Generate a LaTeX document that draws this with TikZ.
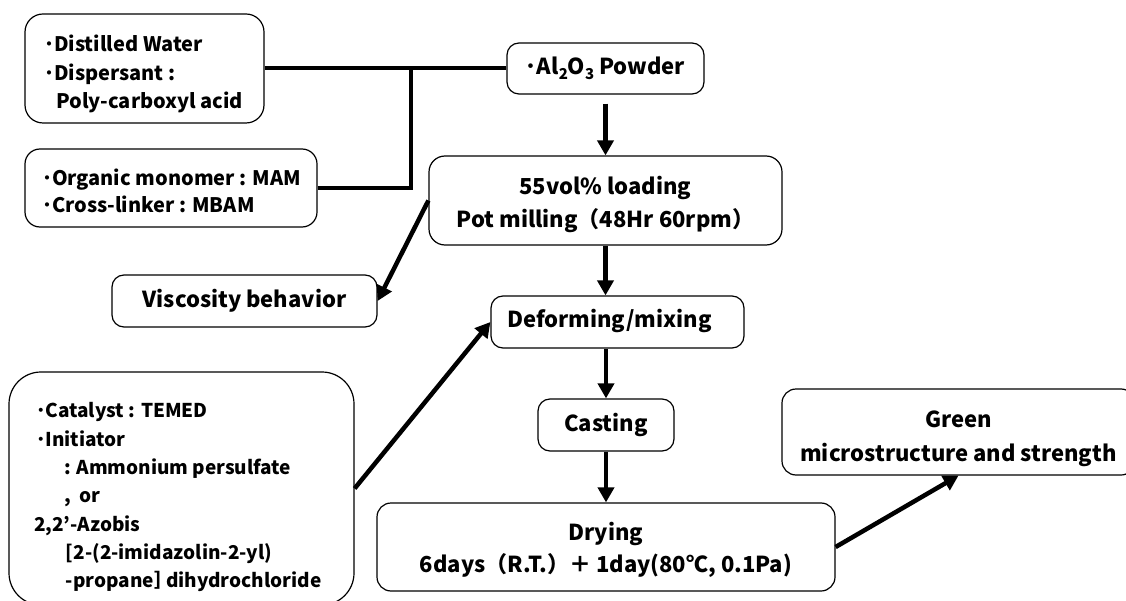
\documentclass[tikz,border=0pt]{standalone}
\usepackage{fontspec}
\setmainfont{Noto Sans CJK JP}
\usetikzlibrary{arrows.meta}
\newcommand\lowsub[1]{\raisebox{-0.4ex}{\fontsize{15}{15}\selectfont #1}}
\newcommand\lbox[2]{\makebox[#1][l]{\begin{tabular}{@{}l@{}}#2\end{tabular}}}
\newcommand\drop[2]{\raisebox{#1}[0pt][0pt]{#2}}
\begin{document}
\begin{tikzpicture}[x=1pt,y=-1pt,
  box/.style={draw, line width=1.2pt, rounded corners=12pt, inner sep=0pt, font=\bfseries},
  conn/.style={line width=4pt},
  arr/.style={line width=4.5pt, -{Triangle[length=15pt,width=16pt]}}]
\useasboundingbox (0,0) rectangle (1126,601);
\node[box, rounded corners=18pt, minimum width=239pt, minimum height=109pt,
  font=\bfseries\fontsize{20}{28.5}\selectfont] (dw) at (144.5,68.5)
  {\drop{-11pt}{\lbox{201pt}{･Distilled Water\\･Dispersant :\\\hspace*{12pt}Poly-carboxyl acid}}};
\node[box, rounded corners=15pt, minimum width=292pt, minimum height=78pt,
  font=\bfseries\fontsize{20}{27}\selectfont] (om) at (171,188)
  {\drop{-11pt}{\lbox{258pt}{･Organic monomer : MAM\\･Cross-linker : MBAM}}};
\node[box, minimum width=197pt, minimum height=51pt, font=\bfseries\fontsize{22}{28}\selectfont] (al) at (605.5,68.5)
  {･Al\lowsub{2}O\lowsub{3} Powder};
\node[box, rounded corners=16pt, minimum width=353pt, minimum height=89pt,
  font=\bfseries\fontsize{22}{33}\selectfont] (pot) at (605.5,200.5)
  {\drop{-9pt}{\begin{tabular}{@{}c@{}}55vol\% loading\\Pot milling（48Hr 60rpm）\end{tabular}}};
\node[box, minimum width=265pt, minimum height=52pt, font=\bfseries\fontsize{22}{28}\selectfont] (visc) at (244.5,301)
  {Viscosity behavior};
\node[box, minimum width=253pt, minimum height=52pt,
  font=\bfseries\fontsize{22}{28}\selectfont] (def) at (617.5,322)
  {\lbox{221pt}{Deforming/mixing}};
\node[box, minimum width=136pt, minimum height=52pt, font=\bfseries\fontsize{22}{28}\selectfont] (cast) at (606,425)
  {Casting};
\node[box, rounded corners=14pt, minimum width=458pt, minimum height=88pt,
  font=\bfseries\fontsize{22}{32}\selectfont] (dry) at (606,547)
  {\drop{-8pt}{\begin{tabular}{@{}c@{}}Drying\\6days（R.T.）＋ 1day(80℃, 0.1Pa)\end{tabular}}};
\node[box, rounded corners=14pt, minimum width=353pt, minimum height=86pt,
  font=\bfseries\fontsize{22}{34}\selectfont] (green) at (958.5,432)
  {\drop{-11pt}{\begin{tabular}{@{}c@{}}Green\\microstructure and strength\end{tabular}}};
\node[box, rounded corners=32pt, minimum width=345pt, minimum height=233pt,
  font=\bfseries\fontsize{19}{28.3}\selectfont] (cat) at (181.5,488.5)
  {\drop{-13pt}{\lbox{295pt}{\hspace*{2pt}･Catalyst : TEMED\\\hspace*{2pt}･Initiator\\\hspace*{30pt}: Ammonium persulfate\\\hspace*{30pt},\ \ or\\2,2'-Azobis\\\hspace*{32pt}[2-(2-imidazolin-2-yl)\\\hspace*{32pt}-propane］\hspace{-7pt}dihydrochloride}}};
% connectors
\coordinate (j) at (411,68.5);
\draw[conn] (dw.east) -- (al.west);
\draw[conn] (om.east) -| (j);
\draw[arr, shorten <=9pt] (al.south) -- (pot.north);
\draw[arr] (pot.south) -- (pot.south |- def.north);
\draw[arr] (cast.north |- def.south) -- (cast.north);
\draw[arr] (cast.south) -- (dry.north);
\draw[arr] (pot.west) -- (visc.east);
\draw[arr] (cat.east) -- (def.west);
\draw[arr] (dry.east) -- (green.south);
\end{tikzpicture}
\end{document}
